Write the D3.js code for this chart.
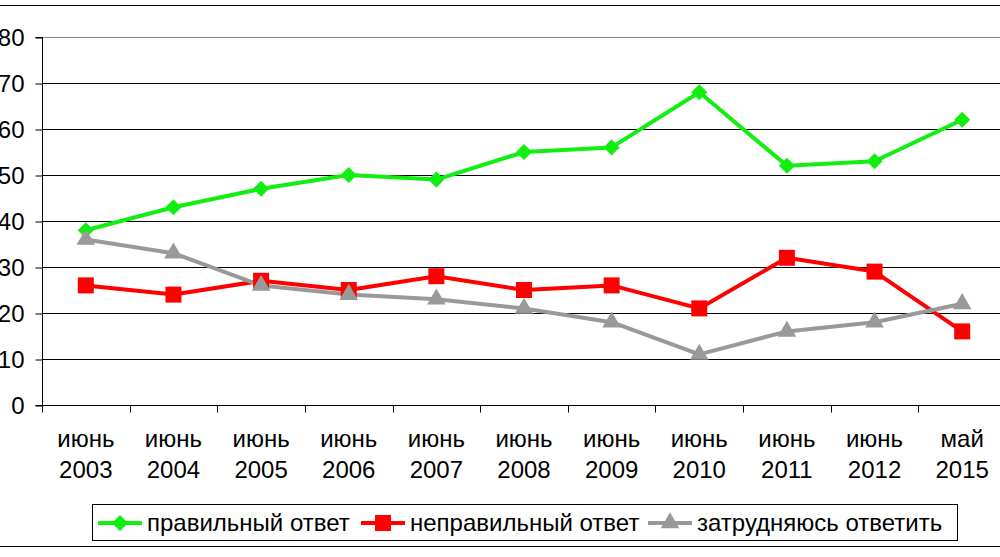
<!DOCTYPE html>
<html>
<head>
<meta charset="utf-8">
<script src="https://cdn.jsdelivr.net/npm/d3@7"></script>
<style>
  body { margin: 0; background: #fff; }
  svg { font-family: "Liberation Sans", Arial, sans-serif; }
</style>
</head>
<body>
<svg id="chart" width="1000" height="557"></svg>
<script>
const categories = [
  ['июнь', '2003'], ['июнь', '2004'], ['июнь', '2005'], ['июнь', '2006'],
  ['июнь', '2007'], ['июнь', '2008'], ['июнь', '2009'], ['июнь', '2010'],
  ['июнь', '2011'], ['июнь', '2012'], ['май', '2015'],
];
const correct = [38, 43, 47, 50, 49, 55, 56, 68, 52, 53, 62];
const wrong = [26, 24, 27, 25, 28, 25, 26, 21, 32, 29, 16];
const unsure = [36, 33, 26, 24, 23, 21, 18, 11, 16, 18, 22];
const yTicks = [0, 10, 20, 30, 40, 50, 60, 70, 80];

const series = [
  { name: 'правильный ответ', values: correct, color: '#11ee11', symbol: d3.symbolDiamond2, size: 165 },
  { name: 'неправильный ответ', values: wrong, color: '#ff0000', symbol: d3.symbolSquare, size: 256 },
  { name: 'затрудняюсь ответить', values: unsure, color: '#999999', symbol: d3.symbolTriangle, size: 150 },
];

const fontSize = 24;
const svg = d3.select('#chart');
const plotLeft = 42;
const plotRight = 1006;
const plotTop = 37;
const plotBottom = 405;

// frame lines at top and bottom of the picture
svg.append('line').attr('x1', 0).attr('x2', 1000).attr('y1', 5.5).attr('y2', 5.5)
  .attr('stroke', '#000').attr('stroke-width', 1.2);
svg.append('line').attr('x1', 0).attr('x2', 1000).attr('y1', 546.5).attr('y2', 546.5)
  .attr('stroke', '#000').attr('stroke-width', 1.2);

const x = d3.scaleBand().domain(d3.range(categories.length)).range([plotLeft, plotRight]);
const y = d3.scaleLinear().domain([0, 80]).range([plotBottom, plotTop]);
const cx = i => x(i) + x.bandwidth() / 2;

// gridlines
svg.append('g')
  .selectAll('line')
  .data(yTicks.filter(d => d > 0))
  .join('line')
  .attr('x1', plotLeft).attr('x2', 1000)
  .attr('y1', d => Math.round(y(d)) + 0.5).attr('y2', d => Math.round(y(d)) + 0.5)
  .attr('stroke', d => (d === 80 ? '#888' : '#000'))
  .attr('stroke-width', 1);

// y axis
const yAxis = svg.append('g')
  .attr('transform', `translate(${plotLeft + 0.5},0.5)`)
  .call(d3.axisLeft(y).tickValues(yTicks).tickSize(7).tickPadding(11));
yAxis.select('.domain').attr('d', `M-7,${Math.round(y(80))}H0V${Math.round(y(0))}H-7`);
yAxis.selectAll('text').attr('font-size', fontSize).attr('fill', '#000')
  .attr('font-family', '"Liberation Sans", Arial, sans-serif');

// x axis
const xAxis = svg.append('g')
  .attr('transform', `translate(0,${Math.round(y(0)) + 0.5})`)
  .call(d3.axisBottom(x).tickSize(0).tickFormat(''));
xAxis.select('.domain').attr('d', `M${plotLeft},0H1000`);
xAxis.selectAll('.tk').data(d3.range(categories.length + 1)).join('line')
  .attr('class', 'tk')
  .attr('x1', i => Math.round(plotLeft + i * x.step()) + 0.5)
  .attr('x2', i => Math.round(plotLeft + i * x.step()) + 0.5)
  .attr('y1', 0).attr('y2', 7).attr('stroke', '#000');

const labels = svg.append('g')
  .attr('font-size', fontSize).attr('text-anchor', 'middle').attr('fill', '#000');
labels.selectAll('text.l1').data(categories).join('text')
  .attr('class', 'l1').attr('x', (d, i) => cx(i)).attr('y', 447).text(d => d[0]);
labels.selectAll('text.l2').data(categories).join('text')
  .attr('class', 'l2').attr('x', (d, i) => cx(i)).attr('y', 478).text(d => d[1]);

// lines and markers
const line = d3.line().x((d, i) => cx(i)).y(d => y(d));
series.forEach((s) => {
  svg.append('path')
    .datum(s.values)
    .attr('d', line)
    .attr('fill', 'none')
    .attr('stroke', s.color)
    .attr('stroke-width', 4)
    .attr('stroke-linejoin', 'round');
});
series.forEach((s) => {
  svg.append('g')
    .selectAll('path')
    .data(s.values)
    .join('path')
    .attr('transform', (d, i) => `translate(${cx(i)},${y(d)})`)
    .attr('d', d3.symbol().type(s.symbol).size(s.size))
    .attr('fill', s.color);
});

// legend
const legend = svg.append('g');
legend.append('rect')
  .attr('x', 92.5).attr('y', 504.5).attr('width', 865).attr('height', 36)
  .attr('fill', '#fff').attr('stroke', '#000').attr('stroke-width', 1);
const legendX = [98, 361, 648];
series.forEach((s, i) => {
  const g = legend.append('g').attr('transform', `translate(${legendX[i]},523)`);
  g.append('line').attr('x1', 0).attr('x2', 44).attr('y1', 0).attr('y2', 0)
    .attr('stroke', s.color).attr('stroke-width', 4);
  g.append('path')
    .attr('transform', 'translate(22,0)')
    .attr('d', d3.symbol().type(s.symbol).size(s.size))
    .attr('fill', s.color);
  g.append('text').attr('x', 49).attr('y', 7.5)
    .attr('font-size', fontSize).attr('fill', '#000').text(s.name);
});
</script>
</body>
</html>
